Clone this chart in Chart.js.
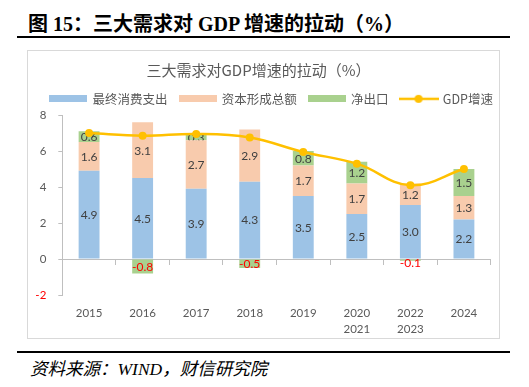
<!DOCTYPE html>
<html><head><meta charset="utf-8">
<script src="https://cdn.jsdelivr.net/npm/chart.js@4.4.1/dist/chart.umd.min.js"></script>
<style>
html,body{margin:0;padding:0;background:#fff;}
body{width:529px;height:387px;position:relative;overflow:hidden;}
#title{position:absolute;left:28px;top:11px;font:bold 20px "Liberation Serif","Noto Sans CJK SC";color:#000;white-space:nowrap;line-height:26px;}
#rule1{position:absolute;left:17px;top:36px;width:493px;height:2px;background:#000;}
#box{position:absolute;left:27px;top:50px;width:471px;height:287px;border:1px solid #D9D9D9;}
#ctitle{position:absolute;left:258.5px;top:60px;transform:translateX(-50%);font:15px "Noto Sans CJK SC";color:#595959;white-space:nowrap;line-height:20px;}
#cv{position:absolute;left:28px;top:51px;}
#rule2{position:absolute;left:17px;top:351px;width:493px;height:2px;background:#000;}
#src{position:absolute;left:30px;top:358px;font:italic 17.5px "Liberation Serif","Noto Sans CJK SC";color:#000;white-space:nowrap;line-height:22px;}
</style>
</head><body>
<div id="title">图 15：三大需求对 GDP 增速的拉动（%）</div>
<div id="rule1"></div>
<div id="box"></div>
<canvas id="cv" width="486" height="286"></canvas>
<div id="ctitle">三大需求对GDP增速的拉动（%）</div>
<div id="rule2"></div>
<div id="src">资料来源：WIND，财信研究院</div>
<script>
const categories = ['2015','2016','2017','2018','2019',['2020','2021'],['2022','2023'],'2024'];
const seriesNames = ['最终消费支出','资本形成总额','净出口','GDP增速'];
const consumption = [4.9,4.5,3.9,4.3,3.5,2.5,3.0,2.2];
const capital = [1.6,3.1,2.7,2.9,1.7,1.7,1.2,1.3];
const netExports = [0.6,-0.8,0.3,-0.5,0.8,1.2,-0.1,1.5];
const gdpGrowth = [7.0,6.85,6.95,6.75,5.95,5.3,4.1,5.0];
const yTicks = [-2,0,2,4,6,8];

const colors = ['#9DC3E6','#F8CBAD','#A9D18E','#FFC000'];
const numFont = 'Lato, "Liberation Sans", sans-serif';
const cjkFont = '"Noto Sans CJK SC", sans-serif';

function boxIcon(color){
  const c=document.createElement('canvas'); c.width=38; c.height=7;
  const g=c.getContext('2d'); g.fillStyle=color; g.fillRect(0,0,38,7); return c;
}
function lineIcon(color){
  const c=document.createElement('canvas'); c.width=40; c.height=10;
  const g=c.getContext('2d'); g.strokeStyle=color; g.lineWidth=2.5;
  g.beginPath(); g.moveTo(0,5); g.lineTo(40,5); g.stroke();
  g.fillStyle=color; g.beginPath(); g.arc(20,5,4,0,Math.PI*2); g.fill(); return c;
}
const icons=[boxIcon(colors[0]),boxIcon(colors[1]),boxIcon(colors[2]),lineIcon(colors[3])];

const barLabels = {
  id:'barLabels',
  afterDatasetDraw(chart, args){
    const meta=args.meta;
    if(meta.type!=='bar') return;
    const ds=chart.data.datasets[args.index];
    const ctx=chart.ctx;
    ctx.save();
    ctx.font='12px '+numFont;
    ctx.textAlign='center'; ctx.textBaseline='middle';
    meta.data.forEach((el,i)=>{
      const v=ds.data[i];
      const p=el.getProps(['x','y','base'],true);
      ctx.fillStyle = v<0 ? '#FF0000' : '#404040';
      let cy=(p.y+p.base)/2;
      if(v<0 && Math.abs(p.y-p.base)<8) cy=p.base+3;
      ctx.fillText(v.toFixed(1), p.x, cy+0.5);
    });
    ctx.restore();
  }
};

const barCommon = {stack:'s', order:1, barPercentage:0.39, categoryPercentage:1, borderWidth:0};
new Chart(document.getElementById('cv'),{
  type:'bar',
  data:{
    labels:categories,
    datasets:[
      Object.assign({label:seriesNames[0], data:consumption, backgroundColor:colors[0]}, barCommon),
      Object.assign({label:seriesNames[1], data:capital, backgroundColor:colors[1]}, barCommon),
      Object.assign({label:seriesNames[2], data:netExports, backgroundColor:colors[2]}, barCommon),
      {type:'line', label:seriesNames[3], data:gdpGrowth, stack:'gdp', order:0,
       borderColor:colors[3], backgroundColor:colors[3], borderWidth:2.5, tension:0.4,
       pointRadius:4, pointHoverRadius:4, pointBorderWidth:0, pointBackgroundColor:colors[3]}
    ]
  },
  options:{
    responsive:false, animation:false, devicePixelRatio:1,
    layout:{padding:{left:5.8, right:4.6, top:29.6, bottom:0}},
    plugins:{
      title:{display:false},
      tooltip:{enabled:false},
      legend:{
        display:true, position:'top', align:'center',
        labels:{
          usePointStyle:true, pointStyleWidth:36, boxHeight:12.5,
          padding:12, color:'#595959',
          font:{family:cjkFont, size:12.5},
          sort:(a,b)=>a.datasetIndex-b.datasetIndex,
          generateLabels(chart){
            const items=Chart.defaults.plugins.legend.labels.generateLabels(chart);
            items.forEach(it=>{ it.pointStyle=icons[it.datasetIndex]; });
            return items;
          }
        }
      }
    },
    scales:{
      x:{
        type:'category', stacked:true, offset:true, position:{y:0},
        afterFit(scale){ scale.height = 0; },
        grid:{display:true, drawOnChartArea:false, drawTicks:true, tickLength:5, color:'#BFBFBF', offset:true},
        border:{display:true, color:'#BFBFBF', width:1},
        ticks:{display:false}
      },
      x2:{
        type:'category', labels:categories, offset:true, position:'bottom',
        afterFit(scale){ scale.height = 42; },
        grid:{display:false, drawTicks:false}, border:{display:false},
        ticks:{color:'#595959', padding:10.5, font:{family:numFont, size:11.5, lineHeight:1.36}, maxRotation:0, autoSkip:false}
      },
      y:{
        stacked:true, min:-2, max:8,
        afterBuildTicks(scale){ scale.ticks = yTicks.map(v=>({value:v})); },
        afterFit(scale){ scale.width = 28.5; },
        grid:{display:true, drawOnChartArea:false, drawTicks:true, tickLength:4, color:'#BFBFBF'},
        border:{display:true, color:'#BFBFBF', width:1},
        ticks:{
          padding:12, font:{family:numFont, size:11.5},
          color:(c)=> (c.tick && c.tick.value<0) ? '#FF0000' : '#595959'
        }
      },
      yR:{
        type:'linear', position:'right', display:true, min:-2, max:8,
        afterFit(scale){ scale.width = 18.7; },
        grid:{display:false, drawTicks:false}, border:{display:false},
        ticks:{display:false}
      }
    }
  },
  plugins:[barLabels]
});
</script>
</body></html>
